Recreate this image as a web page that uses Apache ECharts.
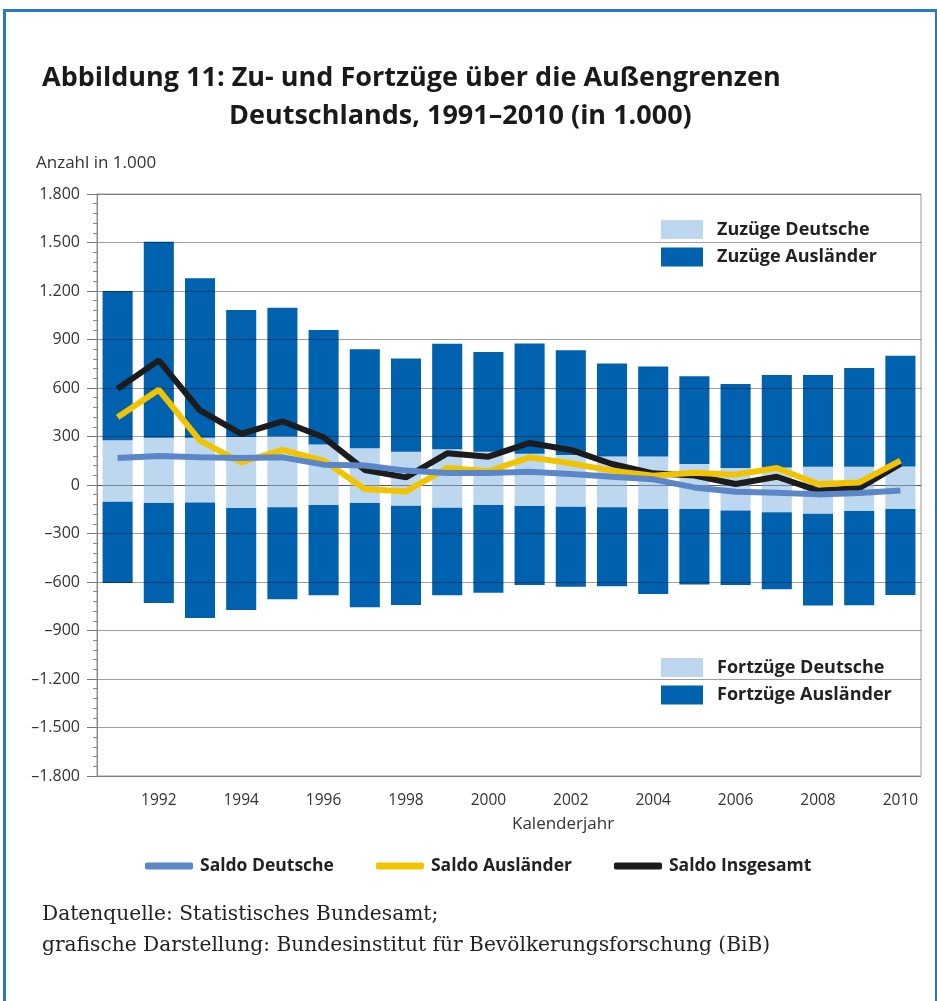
<!DOCTYPE html>
<html><head><meta charset="utf-8">
<script src="https://cdn.jsdelivr.net/npm/echarts@6/dist/echarts.min.js"></script>
<style>html,body{margin:0;padding:0;background:#fff}#c{width:937px;height:1001px}</style>
</head><body><div id="c"></div>
<script>
const years = ['1991','1992','1993','1994','1995','1996','1997','1998','1999','2000','2001','2002','2003','2004','2005','2006','2007','2008','2009','2010'];
const zuzDeutsche = [277,293,293,297,301,250,227,206,221,205,193,185,176,177,130,105,109,113,113,115];
const zuzAuslaender = [923,1211,986,786,796,708,612,577,653,617,683,648,576,556,543,519,571,567,610,685];
const fortDeutsche = [-103,-112,-108,-143,-137,-124,-112,-128,-141,-124,-130,-134,-137,-149,-149,-157,-168,-178,-161,-149];
const fortAuslaender = [-503,-618,-715,-630,-570,-558,-644,-614,-541,-542,-488,-496,-489,-525,-467,-461,-477,-568,-583,-531];
const saldoDeutsche = [167,180,171,167,171,126,120,89,74,74,82,68,51,35,-15,-42,-48,-58,-50,-34];
const saldoAuslaender = [419,589,275,140,217,151,-25,-40,105,85,171,134,89,58,76,64,105,6,16,151];
const saldoInsgesamt = [595,771,461,316,394,295,93,47,196,175,260,217,130,72,58,6,51,-35,-19,130];

const LIGHT = '#bdd7ef', DARK = '#0062ae', BLUE = '#5b87c8', YELLOW = '#f2c400', BLACK = '#1c1c1c';
const FONT = 'Open Sans';

function fmt(v){
  const a = Math.abs(v);
  const s = a >= 1000 ? Math.floor(a/1000) + '.' + String(a%1000).padStart(3,'0') : String(a);
  return (v < 0 ? '\u2013' : '') + s;
}

const chart = echarts.init(document.getElementById('c'), null, {renderer:'canvas'});
const legendText = {fontFamily: FONT, fontWeight: 'bold', fontSize: 18, color: '#222', padding:[0,0,0,9]};
chart.setOption({
  backgroundColor: '#fff',
  animation: false,
  grid: {left: 97, right: 16, top: 194, bottom: 225, show: true, borderColor: '#999', borderWidth: 1, containLabel: false},
  legend: [
    {data: ['Zuzüge Deutsche','Zuzüge Ausländer'], orient: 'vertical', left: 661, top: 220, itemWidth: 42, itemHeight: 19, itemGap: 8.5, icon: 'rect', padding: 0, textStyle: legendText, selectedMode: false},
    {data: ['Fortzüge Deutsche','Fortzüge Ausländer'], orient: 'vertical', left: 661, top: 658, itemWidth: 42, itemHeight: 19, itemGap: 8.5, icon: 'rect', padding: 0, textStyle: legendText, selectedMode: false},
    {data: ['Saldo Deutsche','Saldo Ausländer','Saldo Insgesamt'], orient: 'horizontal', left: 145, top: 857, itemWidth: 48, itemHeight: 7, itemGap: 42, icon: 'roundRect', padding: 0, textStyle: {fontFamily: FONT, fontWeight: 'bold', fontSize: 17.5, color: '#222', padding:[0,0,0,2]}, selectedMode: false}
  ],
  xAxis: {
    type: 'category', data: years,
    axisLine: {lineStyle: {color: '#888', width: 1}},
    axisTick: {show: true, interval: 0, alignWithLabel: true, length: 10, lineStyle: {color: '#666'}},
    axisLabel: {interval: (i) => i % 2 === 1, fontFamily: FONT, fontSize: 15.5, color: '#333', margin: 17},
    splitLine: {show: false}
  },
  yAxis: {
    type: 'value', min: -1800, max: 1800, interval: 300, z: 3,
    axisLine: {show: true, lineStyle: {color: '#888'}},
    axisTick: {show: true, length: 10, lineStyle: {color: '#777'}},
    minorTick: {show: true, splitNumber: 5, length: 4, lineStyle: {color: '#888'}},
    axisLabel: {formatter: fmt, fontFamily: FONT, fontSize: 16, color: '#333', margin: 17},
    splitLine: {show: true, lineStyle: {color: 'rgba(0,0,0,0.38)', width: 1}}
  },
  series: [
    {name: 'Zuzüge Deutsche', type: 'bar', stack: 'a', data: zuzDeutsche, barWidth: '73%', itemStyle: {color: LIGHT}, z: 2},
    {name: 'Zuzüge Ausländer', type: 'bar', stack: 'a', data: zuzAuslaender, itemStyle: {color: DARK}, z: 2},
    {name: 'Fortzüge Deutsche', type: 'bar', stack: 'a', data: fortDeutsche, itemStyle: {color: LIGHT}, z: 2},
    {name: 'Fortzüge Ausländer', type: 'bar', stack: 'a', data: fortAuslaender, itemStyle: {color: DARK}, z: 2},
    {name: 'Saldo Insgesamt', type: 'line', data: saldoInsgesamt, symbol: 'none', lineStyle: {color: BLACK, width: 6}, itemStyle: {color: BLACK}, z: 5},
    {name: 'Saldo Ausländer', type: 'line', data: saldoAuslaender, symbol: 'none', lineStyle: {color: YELLOW, width: 6}, itemStyle: {color: YELLOW}, z: 6},
    {name: 'Saldo Deutsche', type: 'line', data: saldoDeutsche, symbol: 'none', lineStyle: {color: BLUE, width: 6}, itemStyle: {color: BLUE}, z: 7}
  ],
  graphic: [
    {type: 'rect', left: 2, top: 8, z: 100, silent: true, shape: {width: 932, height: 992}, style: {fill: 'none', stroke: '#2a78c6', lineWidth: 3}},
    {type: 'text', left: 42, top: 65, style: {text: 'Abbildung 11: Zu- und Fortzüge über die Außengrenzen', fontFamily: FONT, fontWeight: 'bold', fontSize: 27, fill: '#1a1a1a'}},
    {type: 'text', left: 229, top: 103, style: {text: 'Deutschlands, 1991–2010 (in 1.000)', fontFamily: FONT, fontWeight: 'bold', fontSize: 27, fill: '#1a1a1a'}},
    {type: 'text', left: 36, top: 155, style: {text: 'Anzahl in 1.000', fontFamily: FONT, fontSize: 17, fill: '#333'}},
    {type: 'text', left: 512, top: 816, style: {text: 'Kalenderjahr', fontFamily: FONT, fontSize: 17, fill: '#333', textAlign: 'center'}},
    {type: 'text', left: 42, top: 905, style: {text: 'Datenquelle: Statistisches Bundesamt;', fontFamily: 'DejaVu Serif', fontSize: 20.2, fill: '#222'}},
    {type: 'text', left: 42, top: 936, style: {text: 'grafische Darstellung: Bundesinstitut für Bevölkerungsforschung (BiB)', fontFamily: 'DejaVu Serif', fontSize: 20.2, fill: '#222'}}
  ]
});
</script></body></html>
